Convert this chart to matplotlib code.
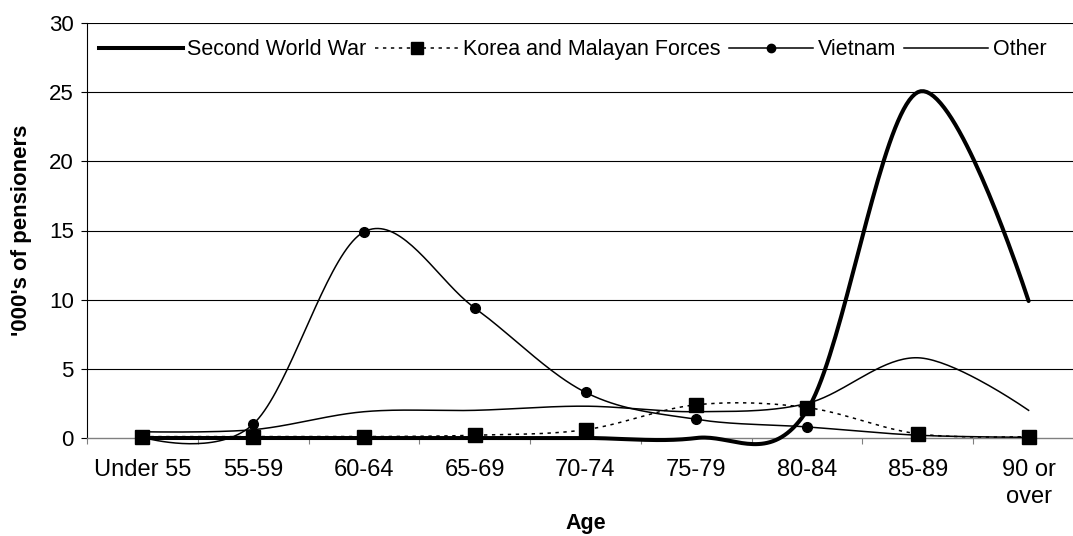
import numpy as np
import matplotlib
matplotlib.use("Agg")
import matplotlib.pyplot as plt
from matplotlib.lines import Line2D

categories = ["Under 55", "55-59", "60-64", "65-69", "70-74", "75-79", "80-84", "85-89", "90 or\nover"]
second_world_war = [0.0, 0.0, 0.0, 0.0, 0.0, 0.0, 2.0, 25.0, 9.9]
korea_malayan = [0.1, 0.1, 0.1, 0.2, 0.6, 2.4, 2.2, 0.3, 0.1]
vietnam = [0.05, 1.0, 14.9, 9.4, 3.3, 1.35, 0.8, 0.2, 0.05]
other = [0.45, 0.6, 1.9, 2.0, 2.3, 1.9, 2.5, 5.8, 2.0]
yticks = [0, 5, 10, 15, 20, 25, 30]

plt.rcParams['font.family'] = ['Liberation Sans', 'DejaVu Sans']
FS_LEG = 15.5
FS_XT = 17
FS_YT = 16


def smooth(xs, ys, n=40):
    """Excel-like smoothing: Catmull-Rom style cubic Bezier through the points."""
    P = np.column_stack([xs, ys]).astype(float)
    m = len(P)
    out = [P[0]]
    t = np.linspace(0, 1, n)[1:, None]
    for i in range(m - 1):
        p1, p2 = P[i], P[i + 1]
        c1 = p1 + (p2 - P[i - 1]) / 6.0 if i > 0 else p1
        c2 = p2 - (P[i + 2] - p1) / 6.0 if i + 2 < m else p2
        seg = ((1 - t) ** 3) * p1 + 3 * ((1 - t) ** 2) * t * c1 + 3 * (1 - t) * t ** 2 * c2 + t ** 3 * p2
        out.extend(seg)
    out = np.array(out)
    return out[:, 0], out[:, 1]


W, H = 1073, 536
fig = plt.figure(figsize=(W / 100, H / 100), dpi=100)
ax = fig.add_axes([87 / W, 1 - 438 / H, 997 / W, 415 / H])

x = np.arange(len(categories))
ax.set_xlim(-0.5, len(categories) - 0.5)
ax.set_ylim(0, 30)

# gridlines
for yv in yticks[1:]:
    ax.axhline(yv, color='black', lw=0.8, zorder=1)

# series
lw_thick = 2.9
lw_thin = 1.1
dot = (0, (2.2, 3))
sx, sy = smooth(x, second_world_war)
ax.plot(sx, sy, color='black', lw=lw_thick, clip_on=False, zorder=3, solid_capstyle='round')

kx, ky = smooth(x, korea_malayan)
ax.plot(kx, ky, color='black', lw=lw_thin, linestyle=dot, clip_on=False, zorder=3)
ax.plot(x, korea_malayan, linestyle='none', marker='s', markersize=10, color='black', clip_on=False, zorder=5)

vx, vy = smooth(x, vietnam)
ax.plot(vx, vy, color='black', lw=lw_thin, clip_on=False, zorder=3)
ax.plot(x, vietnam, linestyle='none', marker='o', markersize=7, color='black', clip_on=False, zorder=4)

ox, oy = smooth(x, other)
ax.plot(ox, oy, color='black', lw=lw_thin, clip_on=False, zorder=3)

# axes styling
for s in ['top', 'right']:
    ax.spines[s].set_visible(False)
ax.spines['left'].set_color('black')
ax.spines['left'].set_linewidth(0.8)
ax.spines['bottom'].set_color('#808080')
ax.spines['bottom'].set_linewidth(1.0)

ax.set_yticks(yticks)
ax.set_yticklabels([str(v) for v in yticks], fontsize=FS_YT)
ax.tick_params(axis='y', direction='out', length=4.5, width=0.8, pad=5, color='black')

ax.set_xticks(x)
ax.set_xticklabels(categories, fontsize=FS_XT, linespacing=1.3, va='top')
ax.tick_params(axis='x', which='major', length=0, pad=15)
ax.set_xticks(np.arange(len(categories) + 1) - 0.5, minor=True)
ax.tick_params(axis='x', which='minor', direction='out', length=4.5, width=0.8, color='#808080')

ax.set_ylabel("'000's of pensioners", fontsize=16, fontweight='bold', labelpad=12)
ax.set_xlabel("Age", fontsize=15.5, fontweight='bold', labelpad=4)

handles = [
    Line2D([], [], color='black', lw=lw_thick),
    Line2D([], [], color='black', lw=lw_thin, linestyle=dot, marker='s', markersize=8),
    Line2D([], [], color='black', lw=lw_thin, marker='o', markersize=6),
    Line2D([], [], color='black', lw=lw_thin),
]
labels = ["Second World War", "Korea and Malayan Forces", "Vietnam", "Other"]
ax.legend(handles, labels, loc='center', bbox_to_anchor=(0.487, 0.935), ncol=4, frameon=False,
          fontsize=FS_LEG, handlelength=3.9, handletextpad=0.2, columnspacing=0.4, numpoints=1,
          borderaxespad=0, borderpad=0)

fig.savefig("out.png", dpi=100)
